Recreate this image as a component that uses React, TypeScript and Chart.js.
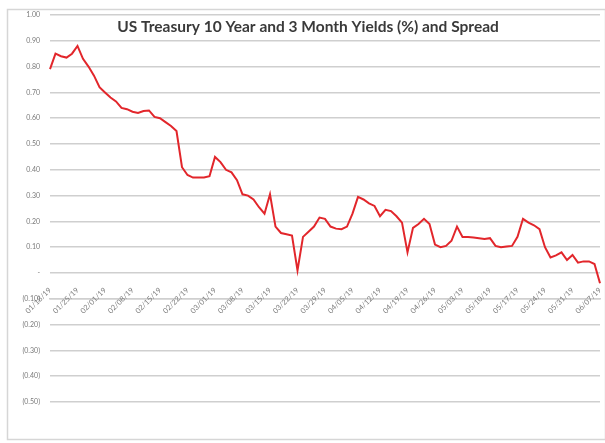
import React, { useEffect, useRef } from 'react';
import { Chart, registerables } from 'chart.js';

Chart.register(...registerables);

const TITLE = 'US Treasury 10 Year and 3 Month Yields (%) and Spread';

const dates = [
  '01/18/19', '01/21/19', '01/22/19', '01/23/19', '01/24/19',
  '01/25/19', '01/28/19', '01/29/19', '01/30/19', '01/31/19',
  '02/01/19', '02/04/19', '02/05/19', '02/06/19', '02/07/19',
  '02/08/19', '02/11/19', '02/12/19', '02/13/19', '02/14/19',
  '02/15/19', '02/18/19', '02/19/19', '02/20/19', '02/21/19',
  '02/22/19', '02/25/19', '02/26/19', '02/27/19', '02/28/19',
  '03/01/19', '03/04/19', '03/05/19', '03/06/19', '03/07/19',
  '03/08/19', '03/11/19', '03/12/19', '03/13/19', '03/14/19',
  '03/15/19', '03/18/19', '03/19/19', '03/20/19', '03/21/19',
  '03/22/19', '03/25/19', '03/26/19', '03/27/19', '03/28/19',
  '03/29/19', '04/01/19', '04/02/19', '04/03/19', '04/04/19',
  '04/05/19', '04/08/19', '04/09/19', '04/10/19', '04/11/19',
  '04/12/19', '04/15/19', '04/16/19', '04/17/19', '04/18/19',
  '04/19/19', '04/22/19', '04/23/19', '04/24/19', '04/25/19',
  '04/26/19', '04/29/19', '04/30/19', '05/01/19', '05/02/19',
  '05/03/19', '05/06/19', '05/07/19', '05/08/19', '05/09/19',
  '05/10/19', '05/13/19', '05/14/19', '05/15/19', '05/16/19',
  '05/17/19', '05/20/19', '05/21/19', '05/22/19', '05/23/19',
  '05/24/19', '05/27/19', '05/28/19', '05/29/19', '05/30/19',
  '05/31/19', '06/03/19', '06/04/19', '06/05/19', '06/06/19',
  '06/07/19',
];

const spread = [
  0.79, 0.85, 0.84, 0.835, 0.85,
  0.88, 0.83, 0.8, 0.765, 0.72,
  0.7, 0.68, 0.665, 0.64, 0.635,
  0.625, 0.62, 0.628, 0.63, 0.605,
  0.6, 0.585, 0.57, 0.55, 0.41,
  0.38, 0.37, 0.37, 0.37, 0.375,
  0.45, 0.43, 0.4, 0.39, 0.36,
  0.305, 0.3, 0.285, 0.255, 0.23,
  0.305, 0.18, 0.155, 0.15, 0.145,
  0.01, 0.14, 0.16, 0.18, 0.215,
  0.21, 0.18, 0.172, 0.17, 0.18,
  0.23, 0.295, 0.285, 0.27, 0.26,
  0.22, 0.245, 0.24, 0.22, 0.195,
  0.08, 0.175, 0.19, 0.21, 0.19,
  0.11, 0.1, 0.105, 0.125, 0.18,
  0.14, 0.14, 0.138, 0.135, 0.132,
  0.135, 0.105, 0.1, 0.103, 0.105,
  0.14, 0.21, 0.195, 0.185, 0.17,
  0.1, 0.06, 0.068, 0.08, 0.05,
  0.07, 0.04, 0.045, 0.045, 0.035,
  -0.04,
];

const Y_MIN = -0.5;
const Y_MAX = 1.0;
const Y_STEP = 0.1;
const AXIS_CROSS = -0.1;
const LABEL_EVERY = 5;

const GRID = '#cfcfcf';
const TEXT = '#7a7a7a';
const LINE = '#e2262b';

const fmtY = (v: number) => {
  const r = Math.round(v * 100) / 100;
  if (Math.abs(r) < 1e-9) return '-';
  if (r < 0) return `(${Math.abs(r).toFixed(2)})`;
  return r.toFixed(2);
};

const framePlugin = {
  id: 'frame',
  beforeDraw(chart: any) {
    const { ctx, width, height } = chart;
    ctx.save();
    ctx.fillStyle = '#ffffff';
    ctx.fillRect(0, 0, width, height);
    ctx.strokeStyle = '#d6d6d6';
    ctx.lineWidth = 1.5;
    ctx.strokeRect(7.5, 9.5, width - 7, height - 13);
    ctx.restore();
  },
  afterDraw(chart: any) {
    const { ctx } = chart;
    ctx.save();
    ctx.font = 'bold 15.5px Lato, "Open Sans", sans-serif';
    ctx.fillStyle = '#3a3a3a';
    ctx.textAlign = 'center';
    ctx.textBaseline = 'middle';
    ctx.fillText(TITLE, 308, 27);
    ctx.restore();
  },
};

export default function App() {
  const ref = useRef<HTMLCanvasElement>(null);

  useEffect(() => {
    if (!ref.current) return;
    const chart = new Chart(ref.current, {
      type: 'line',
      data: {
        labels: dates,
        datasets: [
          {
            data: spread,
            borderColor: LINE,
            borderWidth: 2,
            pointRadius: 0,
            tension: 0,
            fill: false,
          },
        ],
      },
      options: {
        responsive: false,
        animation: false,
        layout: { padding: { left: 5, top: 15, right: 5, bottom: 41 } },
        plugins: {
          legend: { display: false },
          tooltip: { enabled: false },
          title: { display: false },
        },
        scales: {
          x: {
            type: 'category',
            position: { y: AXIS_CROSS } as any,
            grid: { display: false, drawTicks: false },
            border: { display: true, color: GRID, width: 1.5 },
            ticks: {
              autoSkip: false,
              minRotation: 45,
              maxRotation: 45,
              padding: -13,
              color: TEXT,
              font: { family: 'Lato, "Open Sans", sans-serif', size: 7.5 },
              callback: (_v: any, i: number) => (i % LABEL_EVERY === 0 ? dates[i] : ''),
            },
          },
          y: {
            min: Y_MIN,
            max: Y_MAX,
            afterFit(scale: any) {
              scale.width = 45;
            },
            grid: { color: GRID, lineWidth: 1.5, drawTicks: false },
            border: { display: false },
            ticks: {
              stepSize: Y_STEP,
              padding: 10,
              color: TEXT,
              font: { family: 'Lato, "Open Sans", sans-serif', size: 7 },
              callback: (v: any) => fmtY(Number(v)),
            },
          },
        },
      },
      plugins: [framePlugin],
    });
    return () => chart.destroy();
  }, []);

  return (
    <div style={{ position: 'fixed', left: 0, top: 0, width: 605, height: 443 }}>
      <canvas ref={ref} width={605} height={443} style={{ display: 'block' }} />
    </div>
  );
}
